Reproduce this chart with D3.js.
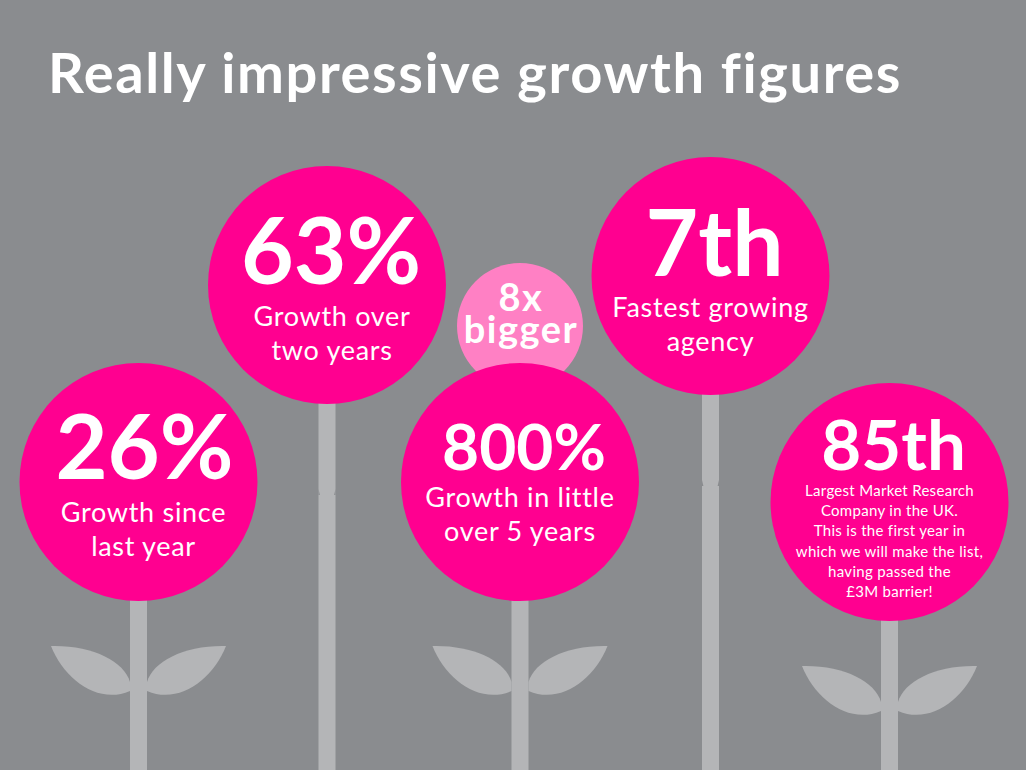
<!DOCTYPE html>
<html>
<head>
<meta charset="utf-8">
<script src="https://cdn.jsdelivr.net/npm/d3@7"></script>
<style>
  html, body { margin: 0; padding: 0; background: #8a8c8f; }
  svg { display: block; }
  text { font-family: Lato, "Open Sans", sans-serif; fill: #fff; text-anchor: middle; }
</style>
</head>
<body>
<svg id="chart" width="1026" height="770"></svg>
<script>
const title = "Really impressive growth figures";

// Chart content
const flowers = ["a", "b", "c", "d", "e"];
const figures = ["26%", "63%", "800%", "7th", "85th"];
const captions = [
  ["Growth since", "last year"],
  ["Growth over", "two years"],
  ["Growth in little", "over 5 years"],
  ["Fastest growing", "agency"],
  ["Largest Market Research", "Company in the UK.", "This is the first year in", "which we will make the list,", "having passed the", "£3M barrier!"]
];
const hasLeaves = [true, false, true, false, true];
const hasJoint = [false, true, false, true, false];
const budLines = ["8x", "bigger"];

const width = 1026;
const height = 770;
const svg = d3.select("#chart");

// Layout scales: flower id to head centre and text placement
const xHead = d3.scaleOrdinal().domain(flowers).range([138.5, 327, 520, 710.5, 889.5]);
const yHead = d3.scaleOrdinal().domain(flowers).range([482, 285, 482, 276, 502]);
const figureSize = d3.scaleOrdinal().domain(flowers).range([90, 91, 64, 91, 69]);
const figureDx = d3.scaleOrdinal().domain(flowers).range([6, 4, 4, 4, 4]);
const figureDy = d3.scaleOrdinal().domain(flowers).range([-3, -1, -12, 0, -32]);
const captionDx = d3.scaleOrdinal().domain(flowers).range([5, 5, 0, 0, 0]);
const captionDy = d3.scaleOrdinal().domain(flowers).range([40, 41, 25, 41, -6]);
const radius = 119;
const stemWidth = 17;

const pink = "#ff0090";
const stemColor = "#b4b5b7";
const bgColor = "#8a8c8f";

svg.append("rect").attr("width", width).attr("height", height).attr("fill", bgColor);

svg.append("text")
  .attr("x", 475).attr("y", 93)
  .style("font-size", "56px").style("font-weight", 700).style("letter-spacing", "1.6px")
  .text(title);

// Stems
svg.selectAll("rect.stem").data(flowers).join("rect")
  .attr("class", "stem")
  .attr("x", d => xHead(d) - stemWidth / 2)
  .attr("y", d => yHead(d))
  .attr("width", stemWidth)
  .attr("height", d => height - yHead(d))
  .attr("fill", stemColor);

// Small pinch where the stem segments join
function jointPath(d) {
  const p = d3.path();
  const x = xHead(d), y = yHead(d) + 204;
  [-1, 1].forEach(s => {
    p.moveTo(x + s * stemWidth / 2, y);
    p.lineTo(x + s * (stemWidth / 2 - 1.4), y + 6);
    p.lineTo(x + s * stemWidth / 2, y + 6);
    p.closePath();
  });
  return p.toString();
}
svg.selectAll("path.joint").data(flowers.filter((d, i) => hasJoint[i])).join("path")
  .attr("class", "joint")
  .attr("d", jointPath)
  .attr("fill", bgColor);

// Leaf pair, side -1 is left and 1 is right
function leafPath(d, side) {
  const x = xHead(d) + side * stemWidth / 2, y = yHead(d) + 209;
  const p = d3.path();
  p.moveTo(x, y - 9);
  p.bezierCurveTo(x + side * 6, y - 30, x + side * 38, y - 46, x + side * 79, y - 45);
  p.bezierCurveTo(x + side * 66, y - 12, x + side * 32, y + 14, x, y);
  p.closePath();
  return p.toString();
}
const leafy = flowers.filter((d, i) => hasLeaves[i]);
[-1, 1].forEach(side => {
  svg.selectAll("path.leaf" + side).data(leafy).join("path")
    .attr("d", d => leafPath(d, side))
    .attr("fill", stemColor);
});

// The small bud sits behind the middle head
svg.append("circle").attr("cx", xHead("c")).attr("cy", 326).attr("r", 63).attr("fill", "#ff80c4");
svg.selectAll("text.bud").data(budLines).join("text")
  .attr("class", "bud")
  .attr("x", xHead("c") + 1)
  .attr("y", (d, i) => 311 + i * 32)
  .style("font-size", "38px").style("font-weight", 700).style("letter-spacing", "1.5px")
  .text(d => d);

// Heads
svg.selectAll("circle.head").data(flowers).join("circle")
  .attr("class", "head")
  .attr("cx", xHead).attr("cy", yHead).attr("r", radius)
  .attr("fill", pink);

svg.selectAll("text.figure").data(flowers).join("text")
  .attr("class", "figure")
  .attr("x", d => xHead(d) + figureDx(d))
  .attr("y", d => yHead(d) + figureDy(d))
  .style("font-size", d => figureSize(d) + "px")
  .style("font-weight", 700)
  .text((d, i) => figures[i]);

flowers.forEach((d, i) => {
  const small = captions[i].length > 2;
  svg.selectAll("text.cap" + d).data(captions[i]).join("text")
    .attr("class", "cap" + d)
    .attr("x", xHead(d) + captionDx(d))
    .attr("y", (t, j) => yHead(d) + captionDy(d) + j * (small ? 20.2 : 34))
    .style("font-size", small ? "15px" : "27px")
    .style("letter-spacing", small ? "0.3px" : "0.7px")
    .text(t => t);
});
</script>
</body>
</html>
